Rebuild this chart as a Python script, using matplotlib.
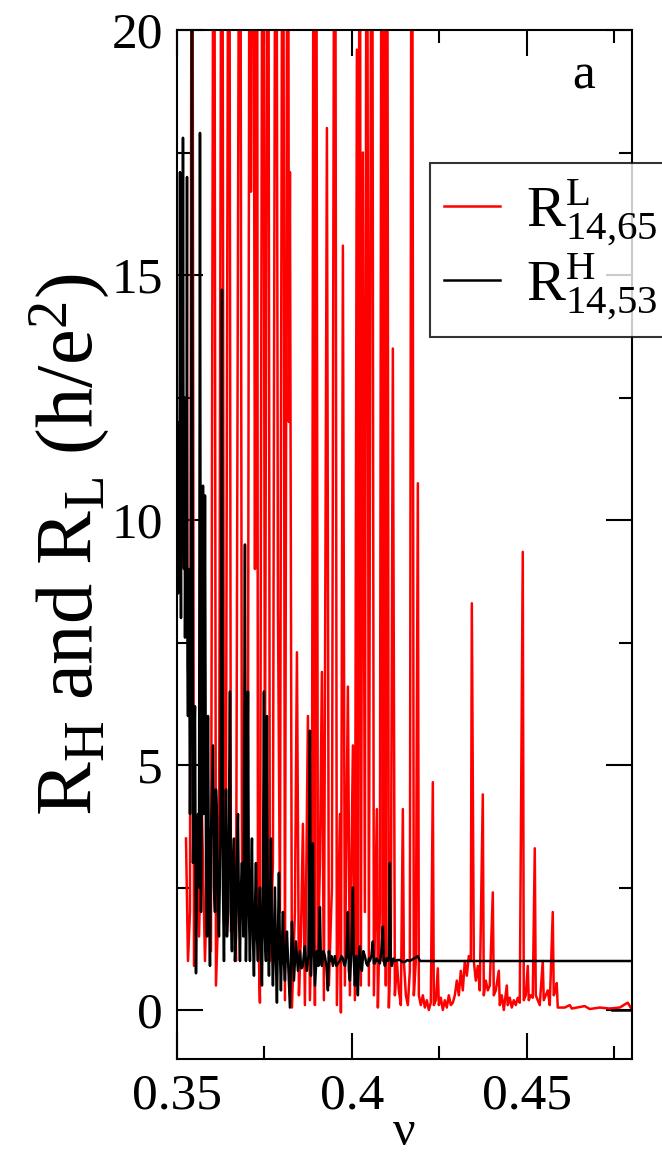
import matplotlib
matplotlib.use("Agg")
import matplotlib.pyplot as plt
from matplotlib.ticker import MultipleLocator

plt.rcParams['font.family'] = ['Liberation Serif', 'DejaVu Serif']
plt.rcParams['mathtext.fontset'] = 'custom'
plt.rcParams['mathtext.rm'] = 'Liberation Serif'
plt.rcParams['mathtext.it'] = 'Liberation Serif:italic'
plt.rcParams['mathtext.bf'] = 'Liberation Serif:bold'

# ---- data: R^L_{14,65} (red) ----
red_nu = [0.35257, 0.35314, 0.35371, 0.35429, 0.35486, 0.35571, 0.35629, 0.35714,
          0.35800, 0.35886, 0.35971, 0.36057, 0.36114, 0.36200, 0.36286, 0.36343,
          0.36400, 0.36486, 0.36543, 0.36629, 0.36686, 0.36800, 0.36857, 0.36943,
          0.37029, 0.37086, 0.37114, 0.37171, 0.37229, 0.37286, 0.37314, 0.37371,
          0.37457, 0.37514, 0.37600, 0.37657, 0.37743, 0.37829, 0.37886, 0.37943,
          0.38029, 0.38086, 0.38171, 0.38200, 0.38229, 0.38286, 0.38371, 0.38429,
          0.38486, 0.38543, 0.38600, 0.38657, 0.38743, 0.38800, 0.38857, 0.38914,
          0.38943, 0.38971, 0.39029, 0.39086, 0.39143, 0.39200, 0.39286, 0.39343,
          0.39429, 0.39514, 0.39571, 0.39657, 0.39686, 0.39743, 0.39800, 0.39886,
          0.39943, 0.40029, 0.40086, 0.40143, 0.40171, 0.40229, 0.40257, 0.40314,
          0.40371, 0.40429, 0.40486, 0.40571, 0.40629, 0.40714, 0.40743, 0.40800,
          0.40857, 0.40886, 0.40943, 0.40971, 0.41000, 0.41057, 0.41114, 0.41171,
          0.41229, 0.41286, 0.41343, 0.41400, 0.41457, 0.41486, 0.41543, 0.41600,
          0.41657, 0.41714, 0.41771, 0.41829, 0.41886, 0.41914, 0.41971, 0.42029,
          0.42086, 0.42143, 0.42200, 0.42257, 0.42314, 0.42343, 0.42400, 0.42457,
          0.42486, 0.42543, 0.42600, 0.42657, 0.42714, 0.42771, 0.42829, 0.42886,
          0.42943, 0.43000, 0.43057, 0.43114, 0.43171, 0.43229, 0.43286, 0.43343,
          0.43400, 0.43429, 0.43486, 0.43543, 0.43600, 0.43657, 0.43743, 0.43771,
          0.43829, 0.43886, 0.43943, 0.44029, 0.44057, 0.44114, 0.44200, 0.44229,
          0.44286, 0.44343, 0.44429, 0.44457, 0.44514, 0.44571, 0.44629, 0.44686,
          0.44743, 0.44800, 0.44886, 0.44914, 0.44971, 0.45029, 0.45057, 0.45114,
          0.45171, 0.45229, 0.45257, 0.45314, 0.45371, 0.45457, 0.45486, 0.45543,
          0.45600, 0.45657, 0.45743, 0.45771, 0.45829, 0.45857, 0.45886, 0.46086,
          0.46229, 0.46286, 0.46514, 0.46657, 0.46800, 0.47086, 0.47371, 0.47657,
          0.47886, 0.47971]
red_R = [3.5, 1.0, 2.0, 30, 0.9, 3.0, 1.5, 4.0,
         1.0, 3.5, 1.2, 30, 0.5, 2.5, 30, 2.5,
         4.0, 30, 1.6, 3.0, 1.0, 30, 3.0, 1.5,
         5.0, 30, 16.7, 30, 9.0, 30, 2.0, 0.15,
         30, 4.0, 30, 1.0, 3.0, 30, 8.2, 2.0,
         30, 0.2, 30, 12.0, 17.1, 0.05, 2.0, 7.3,
         0.3, 1.5, 3.8, 0.1, 6.0, 0.2, 2.0, 30,
         0.1, 30, 1.0, 3.0, 6.9, 0.2, 18.0, 0.5,
         2.5, 30, 0.1, 4.0, -0.05, 15.6, 0.5, 6.6,
         0.3, 5.4, 0.2, 19.6, 1.0, 30, 0.5, 17.5,
         2.0, 30, 0.5, 30, 0.3, 4.1, 0.05, 2.0,
         30, 1.0, 30, 0.5, 30, 0.05, 1.5, 13.5,
         0.3, 1.0, 0.4, 0.1, 4.1, 1.0, 0.3, 0.1,
         0.8, 30, 0.3, 1.0, 10.75, 0.3, 0.1, 0.3,
         0.05, 0.2, 0.0, 0.15, 4.65, 0.1, 0.2, 0.85,
         0.1, 0.25, 0.0, 0.2, 0.05, 0.3, 0.1, 0.15,
         0.3, 0.6, 0.3, 0.8, 0.4, 1.0, 0.7, 1.1,
         1.0, 8.3, 1.0, 0.6, 0.9, 0.4, 4.4, 0.3,
         0.6, 0.4, 0.5, 2.4, 0.3, 0.4, 0.8, 0.1,
         0.3, 0.0, 0.5, 0.1, 0.25, 0.05, 0.2, 0.1,
         0.25, 0.15, 9.35, 0.2, 0.3, 0.9, 0.2, 0.3,
         0.25, 3.3, 0.3, 0.2, 0.1, 1.0, 0.2, 0.3,
         0.4, 0.1, 2.0, 0.3, 0.4, 0.55, 0.05, 0.05,
         0.1, 0.03, 0.06, 0.08, 0.02, 0.05, 0.03, 0.05,
         0.15, 0.05]

# ---- data: R^H_{14,53} (black) ----
black_nu = [0.35000, 0.35014, 0.35029, 0.35043, 0.35057, 0.35071, 0.35086, 0.35100,
            0.35114, 0.35129, 0.35143, 0.35157, 0.35171, 0.35186, 0.35200, 0.35214,
            0.35229, 0.35243, 0.35257, 0.35271, 0.35286, 0.35300, 0.35314, 0.35343,
            0.35371, 0.35400, 0.35429, 0.35457, 0.35486,
            0.35514, 0.35543, 0.35571, 0.35600, 0.35629, 0.35657, 0.35686, 0.35714,
            0.35743, 0.35771, 0.35800, 0.35829,
            0.35857, 0.35886, 0.35914, 0.35943, 0.35971, 0.36000, 0.36029, 0.36057,
            0.36086, 0.36114, 0.36143, 0.36171, 0.36200, 0.36243,
            0.36286, 0.36314, 0.36343, 0.36371, 0.36400, 0.36429, 0.36457, 0.36486,
            0.36514, 0.36543, 0.36571, 0.36600, 0.36629, 0.36657, 0.36686, 0.36714,
            0.36743, 0.36771, 0.36800, 0.36829, 0.36857, 0.36900, 0.36943, 0.36971,
            0.37000, 0.37029, 0.37057, 0.37086, 0.37114, 0.37143, 0.37171,
            0.37200, 0.37229, 0.37257, 0.37286, 0.37314, 0.37343, 0.37371, 0.37400,
            0.37429, 0.37457, 0.37486, 0.37514, 0.37543, 0.37571,
            0.37600, 0.37629, 0.37657, 0.37686, 0.37714, 0.37743, 0.37771, 0.37800,
            0.37829, 0.37857, 0.37886, 0.37914, 0.37943, 0.37971, 0.38000, 0.38029,
            0.38057, 0.38086, 0.38114, 0.38143, 0.38186, 0.38229, 0.38257, 0.38286,
            0.38314, 0.38343, 0.38371, 0.38400, 0.38429, 0.38457, 0.38486, 0.38514,
            0.38557, 0.38600, 0.38629, 0.38657, 0.38686, 0.38714, 0.38757, 0.38800,
            0.38829, 0.38857, 0.38886, 0.38914, 0.38943, 0.39000,
            0.39043, 0.39086, 0.39114, 0.39143, 0.39186, 0.39229, 0.39271, 0.39314,
            0.39343, 0.39371, 0.39414, 0.39457, 0.39486, 0.39514, 0.39557, 0.39600,
            0.39657, 0.39700, 0.39743, 0.39771, 0.39800, 0.39843, 0.39886, 0.39914,
            0.39943, 0.39986, 0.40029, 0.40057, 0.40086, 0.40129, 0.40171, 0.40200,
            0.40229, 0.40257, 0.40286, 0.40329, 0.40371, 0.40414, 0.40457, 0.40486,
            0.40514, 0.40557, 0.40600, 0.40629, 0.40657, 0.40700, 0.40743, 0.40771,
            0.40800, 0.40843, 0.40886, 0.40914, 0.40943, 0.40986, 0.41029, 0.41057,
            0.41086, 0.41114, 0.41143, 0.41186, 0.41229, 0.41300, 0.41371, 0.41443,
            0.41514, 0.41586, 0.41657, 0.41771, 0.41886, 0.41943, 0.48000]
black_R = [10.9, 9.5, 8.5, 11.0, 12.0, 9.0, 17.1, 10.0,
           8.0, 11.5, 13.0, 9.5, 17.8, 11.0, 9.0, 12.5,
           7.6, 10.0, 12.0, 8.5, 17.0, 7.0, 6.0, 9.0,
           4.0, 8.0, 22.0, 3.0, 5.0,
           6.2, 0.75, 3.0, 4.0, 2.5, 17.9, 2.0, 5.5,
           10.7, 4.0, 10.5, 3.0,
           1.5, 6.0, 2.5, 0.9, 3.5, 4.5, 5.4, 2.5,
           2.0, 4.5, 4.0, 2.0, 1.5, 3.5,
           14.7, 2.5, 1.0, 3.0, 4.5, 1.5, 2.0, 4.0,
           6.5, 2.0, 1.2, 3.0, 3.5, 1.0, 1.5, 3.0,
           4.0, 2.0, 1.0, 2.5, 3.0, 1.5, 9.5, 1.0,
           3.0, 6.5, 2.0, 1.0, 2.5, 3.5, 1.5,
           0.7, 2.0, 3.0, 1.5, 1.0, 2.0, 2.5, 1.2,
           0.5, 2.5, 6.5, 1.5, 1.0, 6.0,
           1.8, 0.7, 2.0, 3.5, 1.5, 0.5, 1.5, 2.5,
           1.0, 0.15, 1.5, 2.8, 1.2, 0.4, 1.3, 2.0,
           1.0, 0.6, 1.2, 1.6, 0.8, 0.05, 1.0, 1.8,
           1.2, 0.6, 1.0, 1.4, 1.1, 0.8, 1.0, 1.2,
           0.85, 0.9, 1.15, 1.3, 1.0, 0.8, 1.1, 5.7,
           0.7, 1.4, 3.4, 1.3, 0.5, 1.2,
           0.9, 2.1, 1.0, 0.9, 1.2, 1.1, 0.9, 0.4,
           1.2, 1.0, 1.1, 0.9, 1.0, 1.1, 0.9, 0.95,
           1.0, 1.1, 1.05, 0.95, 0.9, 1.1, 2.0, 0.8,
           0.6, 1.2, 2.5, 1.0, 0.5, 1.1, 0.3, 1.0,
           1.3, 0.9, 0.8, 1.2, 1.1, 0.95, 0.9, 1.05,
           1.0, 1.1, 1.4, 0.95, 0.95, 1.05, 1.0, 1.0,
           0.95, 1.2, 1.7, 1.0, 0.9, 1.05, 1.0, 1.1,
           3.0, 1.0, 0.9, 1.05, 1.0, 1.02, 1.02, 0.98,
           0.98, 1.02, 1.0, 1.05, 1.1, 1.0, 1.0]

# short black reference segment at zero near right edge
zero_nu = [0.4745, 0.4800]
zero_R = [0.0, 0.0]

x_ticks = [0.35, 0.40, 0.45]
x_ticklabels = ["0.35", "0.4", "0.45"]
y_ticks = [0, 5, 10, 15, 20]
y_ticklabels = ["0", "5", "10", "15", "20"]

fig = plt.figure(figsize=(6.62, 11.57), dpi=100)
ax = fig.add_axes([177/662, 1 - 1059/1157, 454.7/662, 1029/1157])

ax.plot(red_nu, red_R, color='#ff0000', lw=1.8,
        label=r'$\mathregular{R^{L}_{14{,}65}}$')
ax.plot(black_nu, black_R, color='black', lw=1.8,
        label=r'$\mathregular{R^{H}_{14{,}53}}$')
ax.plot(zero_nu, zero_R, color='black', lw=1.8)

ax.set_xlim(0.35, 0.48)
ax.set_ylim(-1, 20)
ax.set_xticks(x_ticks)
ax.set_xticklabels(x_ticklabels)
ax.set_yticks(y_ticks)
ax.set_yticklabels(y_ticklabels)
ax.xaxis.set_minor_locator(MultipleLocator(0.025))
ax.yaxis.set_minor_locator(MultipleLocator(2.5))
ax.tick_params(which='both', direction='in', top=True, right=True, width=1.5)
ax.tick_params(which='major', length=19, labelsize=37, pad=10)
ax.tick_params(which='minor', length=9.5)
for s in ax.spines.values():
    s.set_linewidth(1.5)

ax.set_xlabel('ν', fontsize=36, labelpad=-7)
ax.set_ylabel(r'$\mathregular{R_H\ and\ R_L\ (h/e^2)}$', fontsize=58, labelpad=0)

ax.text(0.895, 0.955, 'a', transform=ax.transAxes, fontsize=37,
        ha='center', va='center')

leg = ax.legend(loc='upper left', bbox_to_anchor=(0.556, 0.871),
                borderaxespad=0, fontsize=42, frameon=True, fancybox=False,
                handlelength=0.95, handletextpad=0.45, labelspacing=0.05,
                borderpad=0.25)
leg.get_frame().set_edgecolor('black')
leg.get_frame().set_linewidth(1.5)

fig.savefig('out.png', dpi=100)
